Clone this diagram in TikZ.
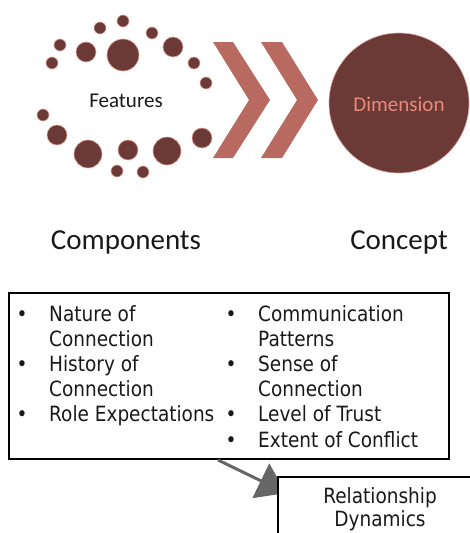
\documentclass[tikz,border=0pt]{standalone}
\usepackage{fontspec}
\setmainfont{Carlito}
\newfontfamily\boxfont[FakeStretch=0.88]{DejaVu Sans}
\usetikzlibrary{arrows.meta}
\definecolor{dotbrown}{HTML}{6B3A37}
\definecolor{dotedge}{HTML}{E4A096}
\definecolor{chev}{HTML}{B86A60}
\definecolor{dimtext}{HTML}{E8897A}
\definecolor{arrowgray}{HTML}{666666}
\begin{document}
\begin{tikzpicture}[x=1pt,y=-1pt,
  dot/.style={fill=dotbrown,draw=dotedge,line width=0.6pt},
  chevron/.style={fill=chev,draw=none},
  calib/.style={font=\fontsize{21pt}{25pt}\selectfont,inner sep=0pt},
  bigcap/.style={font=\fontsize{29pt}{34pt}\selectfont,inner sep=0pt,text=black!90},
  boxtxt/.style={font=\boxfont\fontsize{21pt}{25pt}\selectfont,inner sep=0pt,text=black!90},
  frame/.style={draw=black,line width=2pt,inner sep=0pt,anchor=north west},
  conn/.style={draw=arrowgray,line width=3pt,-{Triangle[width=38pt,length=28pt,fill=arrowgray]}}
]
\useasboundingbox (0,0) rectangle (470,533);
\clip (0,0) rectangle (470,533);
% dots around Features
\foreach \x/\y/\r in {123/21/6, 100/28/6, 152/33/6, 60/45/6, 86/52/10, 123/55/16,
  173/47/10, 52/63/6, 194/63/6, 206/83/6, 43/115/6, 57/135/10, 88/154/14,
  128/150/10, 167/151/14, 202/138/10, 117/171/6, 143/172/6}
  \path[dot] (\x,\y) circle[radius=\r];
\node[calib,text=black!90,anchor=base] (features) at (126,107) {Features};
% chevrons
\path[chevron] (213,42) -- (233,42) -- (270,100) -- (233,158) -- (213,158) -- (249,100) -- cycle;
\path[chevron] (261,42) -- (282,42) -- (318,100) -- (282,158) -- (261,158) -- (297,100) -- cycle;
% concept circle
\path[fill=dotbrown,draw=dotedge,line width=0.6pt] (399,103) circle[radius=70];
\node[calib,text=dimtext,anchor=base] (dimension) at (399,111) {Dimension};
% captions
\node[bigcap,anchor=base] (components) at (126,249) {Components};
\node[bigcap,anchor=base] (concept) at (399,249) {Concept};
% features box
\node[frame,minimum width=440pt,minimum height=166pt] (box1) at (8,292) {};
\foreach \yb/\bl/\txt in {321.5/1/Nature of, 346.6/0/Connection, 371.7/1/History of,
  396.8/0/Connection, 421.9/1/Role Expectations}{
  \node[boxtxt,anchor=base west] at (49,\yb) {\txt};
  \ifnum\bl=1 \node[boxtxt,anchor=base] at (22,\yb) {•};\fi
}
\foreach \yb/\bl/\txt in {321.5/1/Communication, 346.6/0/Patterns, 371.7/1/Sense of,
  396.8/0/Connection, 421.9/1/Level of Trust, 447/1/Extent of Conflict}{
  \node[boxtxt,anchor=base west] at (258,\yb) {\txt};
  \ifnum\bl=1 \node[boxtxt,anchor=base] at (231,\yb) {•};\fi
}
% connector
\path (box1.south west) ++(210,0) coordinate (as);
\coordinate (ae) at (286,493);
\draw[conn] (as) -- (ae);
% result box
\node[frame,fill=white,minimum width=210pt,minimum height=80pt] (box2) at (277,476) {};
\node[boxtxt,anchor=base] (rel) at (380,503) {Relationship};
\node[boxtxt,anchor=base] (dyn) at (380,526) {Dynamics};
\end{tikzpicture}
\end{document}
